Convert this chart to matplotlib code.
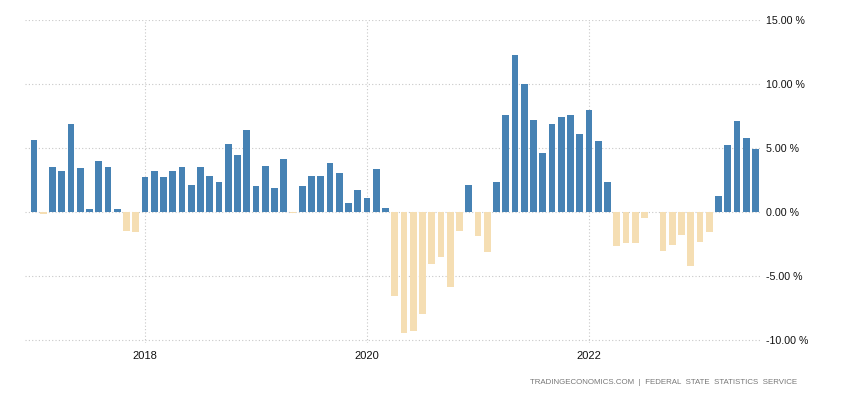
import matplotlib
matplotlib.use("Agg")
import matplotlib.pyplot as plt
import numpy as np

# monthly values, Jan 2017 .. Jul 2023 (percent)
months = [f"{y}-{m:02d}" for y in range(2017, 2024) for m in range(1, 13)][:79]
values = [
    5.65, -0.2, 3.54, 3.23, 6.9, 3.46, 0.26, 4.0, 3.54, 0.26, -1.46, -1.6,
    2.76, 3.23, 2.76, 3.23, 3.54, 2.13, 3.54, 2.84, 2.37, 5.34, 4.48, 6.43,
    2.06, 3.62, 1.83, 4.16, -0.05, 1.99, 2.84, 2.84, 3.85, 3.07, 0.72, 1.74,
    1.12, 3.38, 0.33, -6.54, -9.5, -9.28, -7.96, -4.1, -3.5, -5.85, -1.46, 2.13,
    -1.85, -3.1, 2.37, 7.6, 12.3, 10.0, 7.2, 4.62, 6.9, 7.45, 7.6, 6.1,
    8.0, 5.57, 2.37, -2.63, -2.4, -2.4, -0.44, 0.0, -3.03, -2.56, -1.78, -4.2,
    -2.32, -1.6, 1.27, 5.26, 7.13, 5.8, 4.95,
]
year_ticks = ["2018", "2020", "2022"]
y_ticks = [-10, -5, 0, 5, 10, 15]

POS_COLOR = "#4682b4"
NEG_COLOR = "#f5deb3"

plt.rcParams["font.family"] = ["Liberation Sans", "DejaVu Sans"]

fig = plt.figure(figsize=(8.5, 4), dpi=100)
ax = fig.add_axes([25 / 850, 1 - 343 / 400, (762 - 25) / 850, (343 - 20) / 400])

x = np.arange(len(values))
colors = [POS_COLOR if v >= 0 else NEG_COLOR for v in values]
ax.bar(x, values, width=0.75, color=colors, zorder=2)

tick_pos = [months.index(f"{y}-01") for y in year_ticks]
ax.set_xticks(tick_pos)
ax.set_xticklabels(year_ticks)
ax.set_yticks(y_ticks)
ax.set_yticklabels([f"{v:.2f} %" for v in y_ticks])
ax.yaxis.tick_right()
ax.set_xlim(-0.97, 78.7)
ax.set_ylim(-10.25, 15)

ax.grid(True, color="#c8c8c8", linestyle=(0, (1, 2)), linewidth=0.8, zorder=0)
for side in ax.spines.values():
    side.set_visible(False)
ax.tick_params(axis="both", length=0, labelsize=8, colors="#111111")
ax.tick_params(axis="y", pad=3, labelsize=7.7)
ax.tick_params(axis="x", pad=6)

fig.text(797 / 850, 1 - 382 / 400,
         "TRADINGECONOMICS.COM  |  FEDERAL  STATE  STATISTICS  SERVICE",
         ha="right", va="center", fontsize=5.7, color="#777777")

fig.savefig("out.png", dpi=100)
